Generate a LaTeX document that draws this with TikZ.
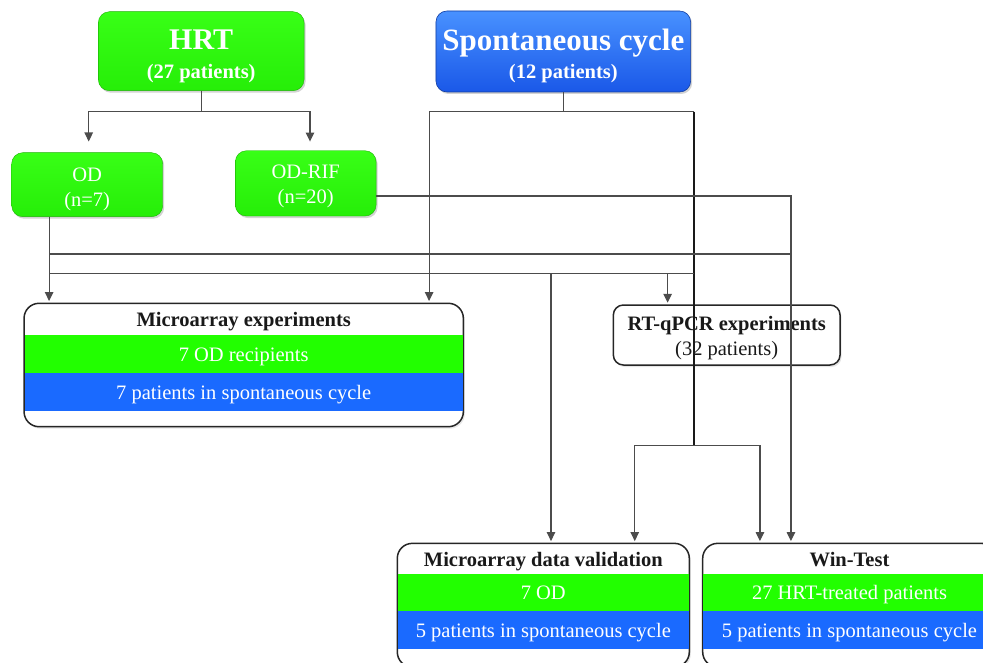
\documentclass[tikz,border=0pt]{standalone}
\usepackage{fontspec}
\setmainfont{Liberation Serif}
\usetikzlibrary{arrows.meta,shadows}
\definecolor{hrtgreen}{RGB}{56,255,22}
\definecolor{hrtgreendark}{RGB}{38,238,8}
\definecolor{spontlight}{RGB}{72,145,255}
\definecolor{spontdark}{RGB}{26,88,232}
\definecolor{bandgreen}{RGB}{34,255,0}
\definecolor{bandblue}{RGB}{26,106,255}
\newcommand{\bodysize}{\fontsize{20.5}{25}\selectfont}
\newcommand{\liftline}[1]{\rule{0pt}{#1pt}}
\begin{document}
\begin{tikzpicture}[x=1pt,y=-1pt,
  group/.style={rounded corners=11pt,inner sep=0pt,align=center,text=white,
    drop shadow={opacity=.35,shadow xshift=1.5pt,shadow yshift=-2pt}},
  hrtgroup/.style={group,draw=hrtgreendark!75!black,line width=.4pt,top color=hrtgreen,bottom color=hrtgreendark},
  spontgroup/.style={group,draw=spontdark!70!black,line width=.6pt,top color=spontlight,bottom color=spontdark},
  panel/.style={draw=black!85,line width=1.5pt,rounded corners=15pt,fill=white,inner sep=0pt,
    drop shadow={opacity=.2,shadow xshift=1.5pt,shadow yshift=-2pt}},
  paneltitle/.style={anchor=base,font=\bodysize\bfseries,text=black!90,inner sep=0pt},
  band/.style={inner sep=0pt,text=white,font=\bodysize,text height=16pt,text depth=1.6pt},
  link/.style={draw=black!70,line width=1.1pt},
  flow/.style={link,-{Triangle[length=9pt,width=8.5pt]},shorten >=1.5pt},
  trunk/.style={draw=black!90,line width=2pt}]

\useasboundingbox (0,0) rectangle (983,663);
\clip (0,0) rectangle (983,663);

\node[hrtgroup,minimum width=205.7pt,minimum height=79pt,font=\fontsize{20.5}{29}\selectfont\bfseries] (hrt) at (201.2,51.2)
  {\liftline{29.6}{\fontsize{30}{30}\selectfont HRT}\\(27 patients)};
\node[spontgroup,minimum width=254.7pt,minimum height=81pt,font=\fontsize{20.5}{28}\selectfont\bfseries] (spont) at (563.3,51.5)
  {\liftline{29.4}{\fontsize{31}{31}\selectfont Spontaneous cycle}\\(12 patients)};
\node[hrtgroup,minimum width=151pt,minimum height=64pt,font=\fontsize{20.5}{24.3}\selectfont] (od) at (87.2,184.7)
  {\liftline{22.7}OD\\(n=7)};
\node[hrtgroup,minimum width=140.7pt,minimum height=65.3pt,font=\fontsize{20.5}{25}\selectfont] (odrif) at (305.7,183.4)
  {\liftline{18.6}OD-RIF\\(n=20)};

\node[panel,rounded corners=10pt,minimum width=226.7pt,minimum height=60pt,align=center,text=black!90,font=\bodysize] (rtq) at (726.7,335)
  {\liftline{19.4}\textbf{RT-qPCR experiments}\\(32 patients)};

\node[panel,minimum width=439.3pt,minimum height=123.4pt] (mexp) at (243.7,365) {};
\node[band,fill=bandgreen,minimum width=437.8pt,minimum height=38pt] (mexpod) at ([yshift=-51.7pt]mexp.north) {7 OD recipients};
\node[band,fill=bandblue,minimum width=437.8pt,minimum height=37.7pt] (mexpsc) at ([yshift=-89.6pt]mexp.north) {7 patients in spontaneous cycle};
\node[paneltitle] (mexptitle) at ([yshift=-23.7pt]mexp.north) {Microarray experiments};

\node[panel,minimum width=292pt,minimum height=123.7pt] (mval) at (543.3,605.2) {};
\node[band,fill=bandgreen,minimum width=290.5pt,minimum height=37.4pt] (mvalod) at ([yshift=-49.7pt]mval.north) {7 OD};
\node[band,fill=bandblue,minimum width=290.5pt,minimum height=38.3pt] (mvalsc) at ([yshift=-87.5pt]mval.north) {5 patients in spontaneous cycle};
\node[paneltitle] (mvaltitle) at ([yshift=-23.4pt]mval.north) {Microarray data validation};

\node[panel,minimum width=293.6pt,minimum height=123.7pt] (wint) at (849.5,605.2) {};
\node[band,fill=bandgreen,minimum width=292.1pt,minimum height=37.4pt] (winthrt) at ([yshift=-49.7pt]wint.north) {27 HRT-treated patients};
\node[band,fill=bandblue,minimum width=292.1pt,minimum height=38.3pt] (wintsc) at ([yshift=-87.5pt]wint.north) {5 patients in spontaneous cycle};
\node[paneltitle] (winttitle) at ([yshift=-23.4pt]wint.north) {Win-Test};

\coordinate (forkrow) at (0,111.7);
\coordinate (rifrow) at (0,196);
\coordinate (busA) at (0,254);
\coordinate (busB) at (0,273.3);
\coordinate (spjoin) at (694,445.7);
\coordinate (odout) at ([xshift=37.6pt]od.south west);
\coordinate (rifdrop) at ([xshift=89pt]wint.north west);
\coordinate (valin) at ([xshift=7.7pt]mval.north);
\coordinate (rtqin) at ([xshift=55pt]rtq.north west);

\draw[link] (hrt.south) -- (hrt.south |- forkrow) coordinate (hrtfork);
\draw[flow,shorten >=11pt] (hrtfork) -| ([xshift=1.5pt]od.north);
\draw[flow,shorten >=9pt] (hrtfork) -| ([xshift=4.3pt]odrif.north);

\draw[link] (spont.south) -- (spont.south |- forkrow) coordinate (spfork);
\draw[flow] (spfork) -| ([xshift=-35pt]mexp.north east);
\draw[link] (spfork) -- (spjoin |- forkrow);
\draw[trunk] (spjoin |- forkrow) -- (spjoin);
\draw[flow] (spjoin) -| ([xshift=-55.3pt]mval.north east);
\draw[flow] (spjoin) -| ([xshift=58pt]wint.north west);

\draw[flow] (odout) -- (odout |- mexp.north);
\draw[link] (odout |- busA) -- (rifdrop |- busA);
\draw[link] (odout |- busB) -- (spjoin |- busB);
\draw[flow] (valin |- busB) -- (valin);
\draw[flow] (rtqin |- busB) -- (rtqin);
\draw[flow] (odrif.east |- rifrow) -| (rifdrop);
\end{tikzpicture}
\end{document}
